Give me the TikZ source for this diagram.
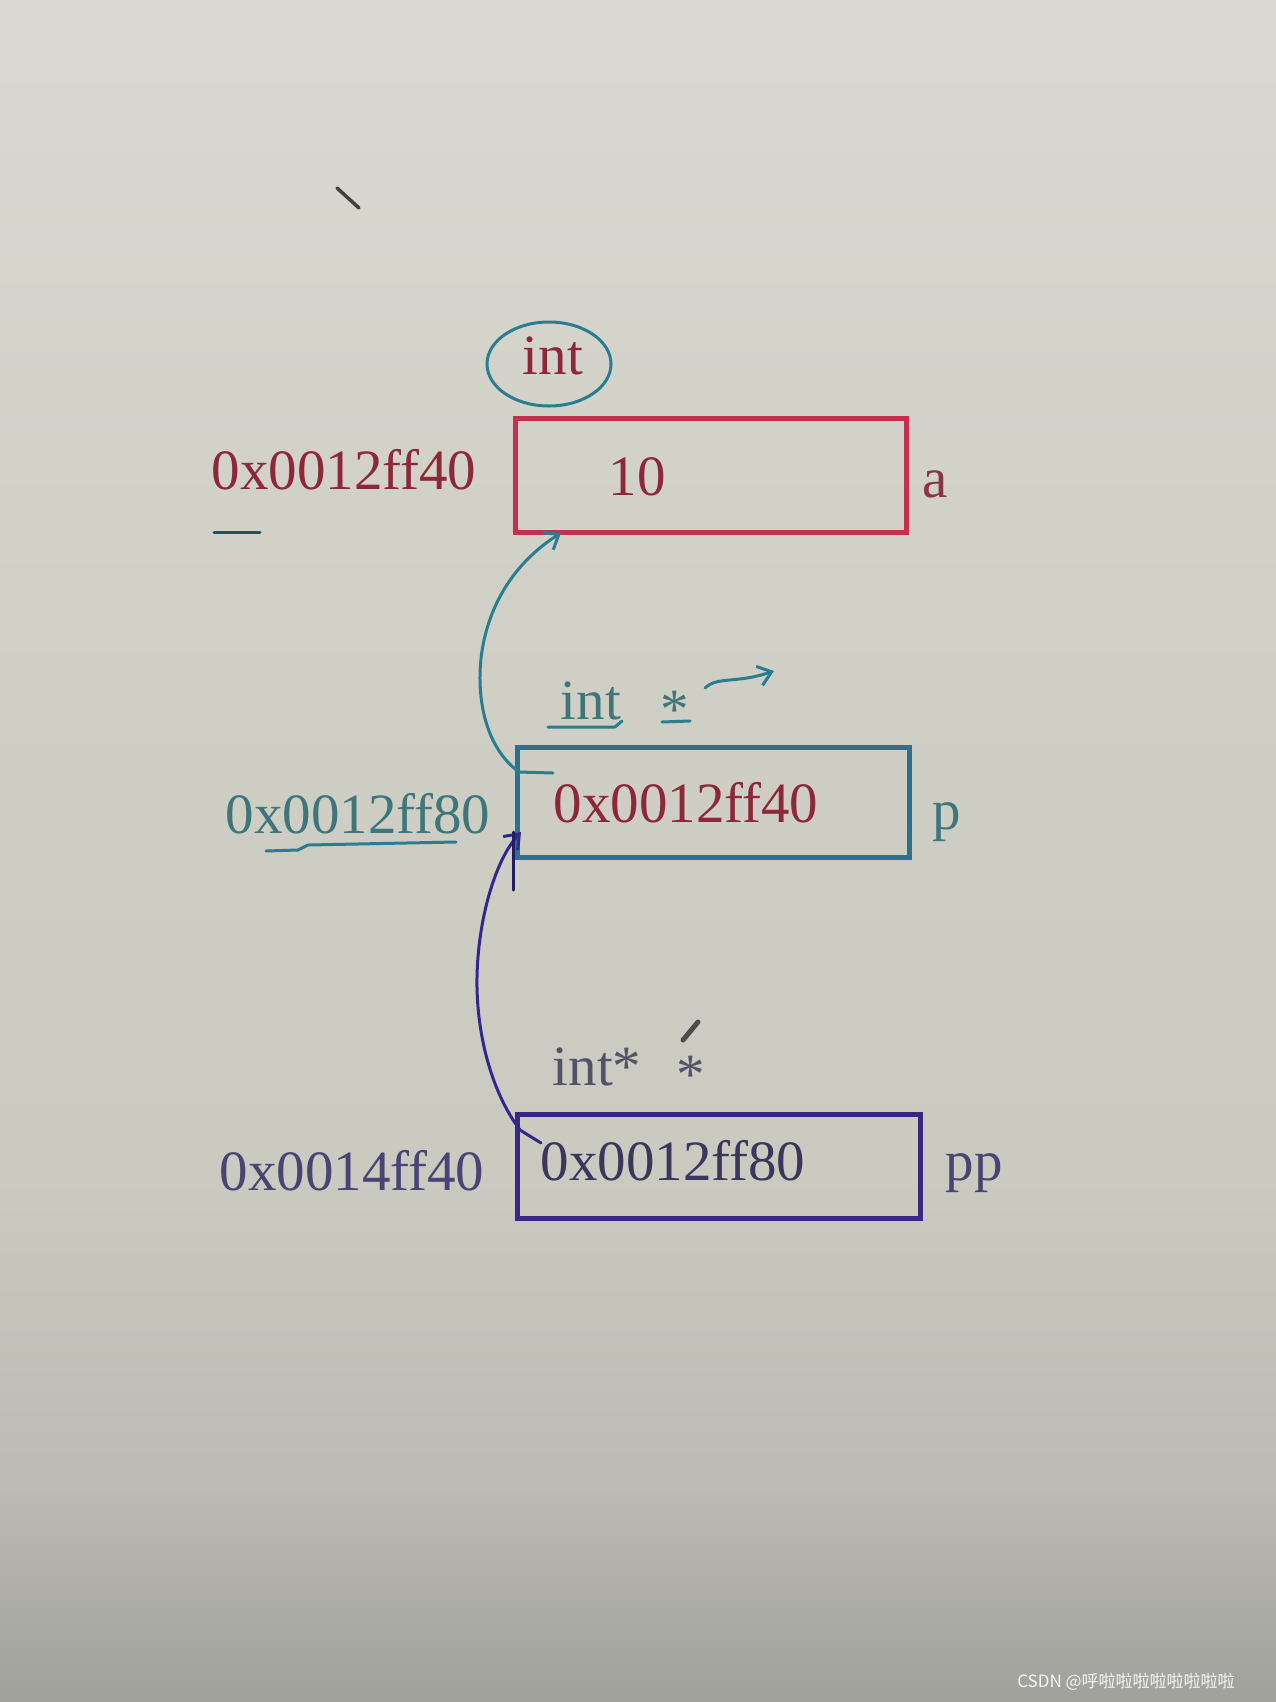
\documentclass[tikz,border=0pt]{standalone}
\usepackage{fontspec}
\setmainfont{Liberation Serif}
\newfontfamily\cjkfont{Noto Sans CJK SC}
\usetikzlibrary{arrows.meta,shapes.geometric}
\definecolor{redbox}{RGB}{196,48,78}
\definecolor{redtxt}{RGB}{140,40,56}
\definecolor{tealbox}{RGB}{48,112,140}
\definecolor{tealink}{RGB}{40,125,145}
\definecolor{tealtxt}{RGB}{62,118,124}
\definecolor{indbox}{RGB}{56,40,130}
\definecolor{indink}{RGB}{50,40,140}
\definecolor{indtxt}{RGB}{72,68,115}
\definecolor{graytxt}{RGB}{82,82,105}
\pgfdeclareverticalshading{screenbg}{100bp}{%
  rgb(0bp)=(0.63,0.63,0.61);
  rgb(25bp)=(0.63,0.63,0.61);
  rgb(31bp)=(0.73,0.73,0.70);
  rgb(40bp)=(0.79,0.79,0.755);
  rgb(60bp)=(0.82,0.82,0.785);
  rgb(75bp)=(0.85,0.85,0.82);
  rgb(100bp)=(0.85,0.85,0.82)}
\begin{document}
\begin{tikzpicture}[x=1pt,y=-1pt,
  txt/.style={inner sep=0pt,anchor=base,font=\fontsize{57}{60}\selectfont},
  cell/.style={draw,line width=5pt,inner sep=0pt},
  ink/.style={line width=3pt,line cap=round,line join=round},
  barb/.style={-{Straight Barb[length=13pt,width=20pt,line width=3pt]}}
]
\useasboundingbox (0,0) rectangle (1276,1702);
\shade[shading=screenbg] (0,0) rectangle (1276,1702);

% stray marks
\draw[ink,line width=3.5pt,black!75] (337,188) -- (359,208);
\draw[ink,line width=3pt,tealbox!70!black] (214,532) -- (260,532);
\draw[line width=5pt,line cap=round,gray!60!black] (683,1040) -- (698,1022);

% boxes
\node[cell,draw=redbox,minimum width=391pt,minimum height=114pt] (boxa) at (710.5,475) {};
\node[cell,draw=tealbox,minimum width=392pt,minimum height=110pt] (boxp) at (713,802) {};
\node[cell,draw=indbox,minimum width=403pt,minimum height=104pt] (boxpp) at (718.5,1166) {};

% ring around int
\node[ellipse,draw=tealink,line width=3pt,minimum width=124pt,minimum height=84pt,inner sep=0pt] (ring) at (549,364) {};
\node[txt,text=redtxt] (inttype) at (553,374) {int};

% row a
\node[txt,text=redtxt] (addra) at (344,489) {0x0012ff40};
\node[txt,text=redtxt] (vala) at (637,495) {10};
\node[txt,text=redtxt!85!gray] (namea) at (935,497) {a};

% row p
\node[txt,text=tealtxt] (typep) at (591,719) {int};
\node[txt,text=tealtxt] (starp) at (675,728) {*};
\draw[ink,tealink] (548,727) -- (615,727) -- (622,721);
\draw[ink,tealink] (662,722) -- (690,721);
\node[txt,text=tealtxt] (addrp) at (358,833) {0x0012ff80};
\draw[ink,tealink] (266,851) -- (298,850) -- (308,845) -- (456,842);
\node[txt,text=redtxt] (valp) at (686,822) {0x0012ff40};
\node[txt,text=tealtxt] (namep) at (947,829) {p};

% row pp
\node[txt,text=graytxt] (typepp) at (597,1085) {int*};
\node[txt,text=graytxt] (starpp) at (691,1093) {*};
\node[txt,text=indtxt] (addrpp) at (352,1190) {0x0014ff40};
\node[txt,text=indtxt!80!black] (valpp) at (673,1180) {0x0012ff80};
\node[txt,text=indtxt] (namepp) at (974,1180) {pp};

% connectors
\coordinate (pstart) at (553,773);
\coordinate (pedge) at (519,772);
\coordinate (aend) at (561,533);
\draw[ink,tealink,barb] (pstart) -- (pedge) .. controls (482,745) and (476,690) .. (482,651)
  .. controls (490,600) and (518,560) .. (aend);

\coordinate (ppstart) at (541,1143);
\coordinate (ppedge) at (520,1130);
\coordinate (pend) at (521,832);
\draw[ink,indink,barb] (ppstart) -- (ppedge) .. controls (490,1090) and (476,1030) .. (477,977)
  .. controls (478,920) and (495,860) .. (pend);
\draw[ink,indink!70!black] (513,832) -- (513,890);

% small hand arrow
\coordinate (sa) at (705,688);
\coordinate (sb) at (774,671);
\draw[ink,tealink,barb] (sa) .. controls (718,676) and (735,684) .. (sb);

% watermark
\node[inner sep=0pt,text=white!92!gray,font=\cjkfont\fontsize{17}{18}\selectfont] (wm) at (1126,1682) {CSDN @呼啦啦啦啦啦啦啦啦};
\end{tikzpicture}
\end{document}
